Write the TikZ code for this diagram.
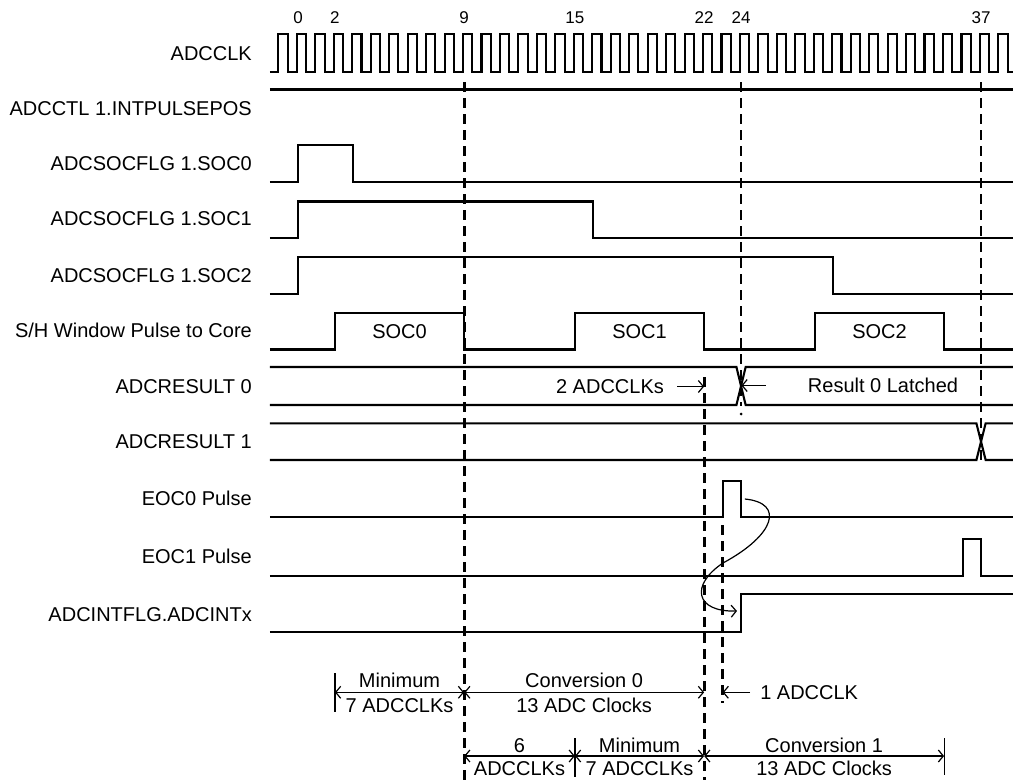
\documentclass[tikz,border=0pt]{standalone}
\usepackage{fontspec}
\setmainfont{Liberation Sans}
\usepackage{tikz}
\usetikzlibrary{arrows.meta}
\tikzstyle{sig}=[line width=2.1pt]
\tikzstyle{guide}=[line width=2.8pt, dash pattern=on 10pt off 6pt]
\tikzstyle{dimline}=[line width=1.2pt, {Straight Barb[length=5pt,width=12pt]}-{Straight Barb[length=5pt,width=12pt]}]
\tikzstyle{pointer}=[line width=1.2pt, -{Straight Barb[length=5pt,width=12pt]}]
\tikzstyle{tick}=[line width=1.2pt]
\tikzstyle{signame}=[anchor=east, inner sep=0pt, text height=14.3pt, text depth=0pt]
\tikzstyle{note}=[inner sep=0pt, text height=14.3pt, text depth=0pt]
\tikzstyle{cycle}=[inner sep=0pt, text height=12pt, text depth=0pt, font=\fontsize{17}{20}\selectfont]

\begin{document}
\begin{tikzpicture}[x=18.46pt, y=-1pt, font=\fontsize{20}{24}\selectfont]
  \useasboundingbox (-16.143,0) rectangle (38.732,782);
  % signal names
  \node[signame] (nclk)  at (-2.49,53)  {ADCCLK};
  \node[signame] (npos)  at (-2.49,108) {ADCCTL 1.INTPULSEPOS};
  \node[signame] (nsoc0) at (-2.49,163) {ADCSOCFLG 1.SOC0};
  \node[signame] (nsoc1) at (-2.49,218) {ADCSOCFLG 1.SOC1};
  \node[signame] (nsoc2) at (-2.49,275) {ADCSOCFLG 1.SOC2};
  \node[signame] (nsh)   at (-2.49,330) {S/H Window Pulse to Core};
  \node[signame] (nres0) at (-2.49,386) {ADCRESULT 0};
  \node[signame] (nres1) at (-2.49,441) {ADCRESULT 1};
  \node[signame] (neoc0) at (-2.49,498) {EOC0 Pulse};
  \node[signame] (neoc1) at (-2.49,556) {EOC1 Pulse};
  \node[signame] (nint)  at (-2.49,614) {ADCINTFLG.ADCINTx};
  % cycle numbers
  \foreach \n in {0,2,9,15,22,24,37}
    \node[cycle] (c\n) at (\n,17) {\n};
  % clock
  \draw[sig] (-1.52,71.7) \foreach \n in {-1,...,38} {
    -- (\n-0.06,71.7) -- (\n-0.06,34) -- (\n+0.44,34) -- (\n+0.44,71.7) } -- (38.73,71.7);
  \draw[sig] (-1.52,89.5) -- (38.73,89.5);
  % SOC flags
  \draw[sig] (-1.52,182) -- (0,182) -- (0,145) -- (3,145) -- (3,182) -- (38.73,182);
  \draw[sig] (-1.52,238) -- (0,238) -- (0,201.5) -- (16,201.5) -- (16,238) -- (38.73,238);
  \draw[sig] (-1.52,293.7) -- (0,293.7) -- (0,257) -- (29,257) -- (29,293.7) -- (38.73,293.7);
  % S/H window
  \draw[sig] (-1.52,349.5) -- (2,349.5) -- (2,313) -- (9,313) -- (9,349.5) -- (15,349.5)
    -- (15,313) -- (22,313) -- (22,349.5) -- (28,349.5) -- (28,313) -- (35,313)
    -- (35,349.5) -- (38.73,349.5);
  \node[note] (w0) at (5.5,331) {SOC0};
  \node[note] (w1) at (18.5,331) {SOC1};
  \node[note] (w2) at (31.5,331) {SOC2};
  % results
  \draw[sig] (-1.52,367) -- (23.75,367) -- (24.25,405) -- (38.73,405);
  \draw[sig] (-1.52,405) -- (23.75,405) -- (24.25,367) -- (38.73,367);
  \draw[sig] (-1.52,423.3) -- (36.75,423.3) -- (37.25,460) -- (38.73,460);
  \draw[sig] (-1.52,460) -- (36.75,460) -- (37.25,423.3) -- (38.73,423.3);
  % EOC and interrupt
  \draw[sig] (-1.52,517.3) -- (23,517.3) -- (23,480.7) -- (24,480.7) -- (24,517.3) -- (38.73,517.3);
  \draw[sig] (-1.52,575.7) -- (36,575.7) -- (36,539) -- (37,539) -- (37,575.7) -- (38.73,575.7);
  \draw[sig] (-1.52,631.7) -- (24,631.7) -- (24,594.3) -- (38.73,594.3);
  % guides
  \draw[guide] (9,82) -- (9,780);
  \draw[guide] (22,377) -- (22,780);
  \draw[guide] (24,82) -- (24,406);
  \fill (24,414) circle[radius=1.5pt];
  \draw[guide] (37,82) -- (37,462);
  \draw[guide] (23,525) -- (23,703);
  % result notes
  \node[note] (t2clk) at (16.9,386.5) {2 ADCCLKs};
  \coordinate (r22) at (22,386.5);
  \draw[pointer] ([xshift=13pt]t2clk.east) -- (r22);
  \node[note] (tlatch) at (31.69,385.5) {Result 0 Latched};
  \coordinate (r24) at (24.02,385.5);
  \draw[pointer] ([xshift=-42pt]tlatch.west) -- (r24);
  % EOC0 -> interrupt
  \coordinate (eocstart) at (24.21,499);
  \coordinate (eocmid) at (23.02,563);
  \coordinate (intend) at (23.78,611);
  \draw[pointer] (eocstart) .. controls (26.38,503) and (25.84,535) .. (eocmid)
    .. controls (21.24,585) and (21.51,612) .. (intend);
  % timing dims, first row
  \coordinate (a2) at (2,692.3);
  \coordinate (a9) at (9,692.3);
  \coordinate (a22) at (22,692.3);
  \coordinate (a23) at (23,692.3);
  \draw[tick] (2,673) -- (2,712);
  \draw[dimline] (a2) -- (a9);
  \draw[dimline] (a9) -- (a22);
  \node[note] (m1a) at (5.5,680) {Minimum};
  \node[note] (m1b) at (5.5,705) {7 ADCCLKs};
  \node[note] (cv0a) at (15.5,680) {Conversion 0};
  \node[note] (cv0b) at (15.5,705) {13 ADC Clocks};
  \node[note, anchor=west] (one) at (25.03,692.3) {1 ADCCLK};
  \draw[pointer] ([xshift=-10pt]one.west) -- (a23);
  % timing dims, second row
  \coordinate (b9) at (9,756);
  \coordinate (b15) at (15,756);
  \coordinate (b22) at (22,756);
  \coordinate (b35) at (35,756);
  \draw[tick] (15,738) -- (15,777);
  \draw[tick] (35,738) -- (35,775);
  \draw[dimline] (b9) -- (b15);
  \draw[dimline] (b15) -- (b22);
  \draw[dimline] (b22) -- (b35);
  \node[note] (s6a) at (12,745) {6};
  \node[note] (s6b) at (12,768) {ADCCLKs};
  \node[note] (m2a) at (18.5,745) {Minimum};
  \node[note] (m2b) at (18.5,768) {7 ADCCLKs};
  \node[note] (cv1a) at (28.5,745) {Conversion 1};
  \node[note] (cv1b) at (28.5,768) {13 ADC Clocks};
\end{tikzpicture}
\end{document}
